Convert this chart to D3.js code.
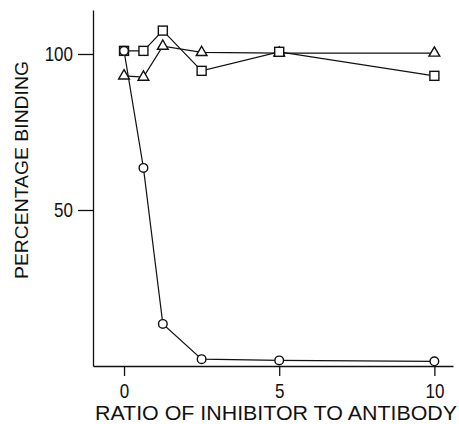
<!DOCTYPE html>
<html>
<head>
<meta charset="utf-8">
<script src="https://cdn.jsdelivr.net/npm/d3@7"></script>
<style>
  body { margin: 0; background: #fff; }
  text { font-family: "Liberation Sans", Arial, sans-serif; fill: #111; }
</style>
</head>
<body>
<div id="chart"></div>
<script>
// ratio of inhibitor to antibody
const ratio = [0, 0.625, 1.25, 2.5, 5, 10];
// percentage binding for the three series
const circleVals = [101, 63.5, 13.5, 2.2, 1.8, 1.5];
const squareVals = [101, 101, 107.5, 94.6, 100.7, 93];
const triangleVals = [93, 92.6, 102.5, 100.5, 100.3, 100.3];
const xTicks = [0, 5, 10];
const yTicks = [50, 100];

var svgWidth = 459, svgHeight = 424;
var margin = {top: 10, left: 93, right: 6, bottom: 58};
var squeeze = 0.85; // the scanned lettering is narrower than Arial

var svg = d3.select("#chart")
  .append("svg")
    .attr("width", svgWidth)
    .attr("height", svgHeight);

var x = d3.scaleLinear()
  .domain([-1, 10.6])
  .range([margin.left, svgWidth - margin.right]);

var y = d3.scaleLinear()
  .domain([0, 114.1])
  .range([svgHeight - margin.bottom, margin.top]);

// axes
var gx = svg.append("g")
  .attr("transform", "translate(0," + y(0) + ")")
  .call(d3.axisBottom(x).tickValues(xTicks).tickSize(10).tickSizeOuter(0).tickPadding(8).tickFormat(d3.format("d")));
var gy = svg.append("g")
  .attr("transform", "translate(" + x(-1) + ",0)")
  .call(d3.axisLeft(y).tickValues(yTicks).tickSize(15).tickSizeOuter(0).tickPadding(5).tickFormat(d3.format("d")));

[gx, gy].forEach(function(g) {
  g.selectAll("path, line").attr("stroke", "#111").attr("stroke-width", 1.3);
  g.selectAll("text")
    .style("font-size", "20px")
    .attr("fill", "#111")
    .attr("transform", "scale(" + squeeze + ",1)");
});
// keep y tick labels right next to their ticks after the squeeze
gy.selectAll("text").attr("x", -20 / squeeze);

// axis titles
svg.append("text")
  .attr("x", 95).attr("y", 420)
  .attr("textLength", 362)
  .attr("lengthAdjust", "spacingAndGlyphs")
  .style("font-size", "21px")
  .text("RATIO OF INHIBITOR  TO ANTIBODY");

svg.append("text")
  .attr("transform", "translate(28,170) rotate(-90)")
  .attr("text-anchor", "middle")
  .attr("textLength", 218)
  .attr("lengthAdjust", "spacingAndGlyphs")
  .style("font-size", "18px")
  .text("PERCENTAGE BINDING");

var line = d3.line()
  .x(function(d) { return x(d[0]); })
  .y(function(d) { return y(d[1]); });

function series(vals) {
  return ratio.map(function(r, i) { return [r, vals[i]]; });
}

[circleVals, squareVals, triangleVals].forEach(function(vals) {
  svg.append("path")
    .datum(series(vals))
    .attr("d", line)
    .attr("fill", "none")
    .attr("stroke", "#111")
    .attr("stroke-width", 1.2);
});

// markers
svg.selectAll(".tri")
  .data(series(triangleVals))
  .enter().append("path")
  .attr("d", d3.symbol().type(d3.symbolTriangle).size(50))
  .attr("transform", function(d) { return "translate(" + x(d[0]) + "," + y(d[1]) + ")"; })
  .attr("fill", "#fff").attr("stroke", "#111").attr("stroke-width", 1.4);

svg.selectAll(".sq")
  .data(series(squareVals))
  .enter().append("rect")
  .attr("x", function(d) { return x(d[0]) - 4.5; })
  .attr("y", function(d) { return y(d[1]) - 4.5; })
  .attr("width", 9).attr("height", 9)
  .attr("fill", "#fff").attr("stroke", "#111").attr("stroke-width", 1.4);

svg.selectAll(".circ")
  .data(series(circleVals))
  .enter().append("circle")
  .attr("cx", function(d) { return x(d[0]); })
  .attr("cy", function(d) { return y(d[1]); })
  .attr("r", 4.3)
  .attr("fill", "#fff").attr("stroke", "#111").attr("stroke-width", 1.4);
</script>
</body>
</html>
